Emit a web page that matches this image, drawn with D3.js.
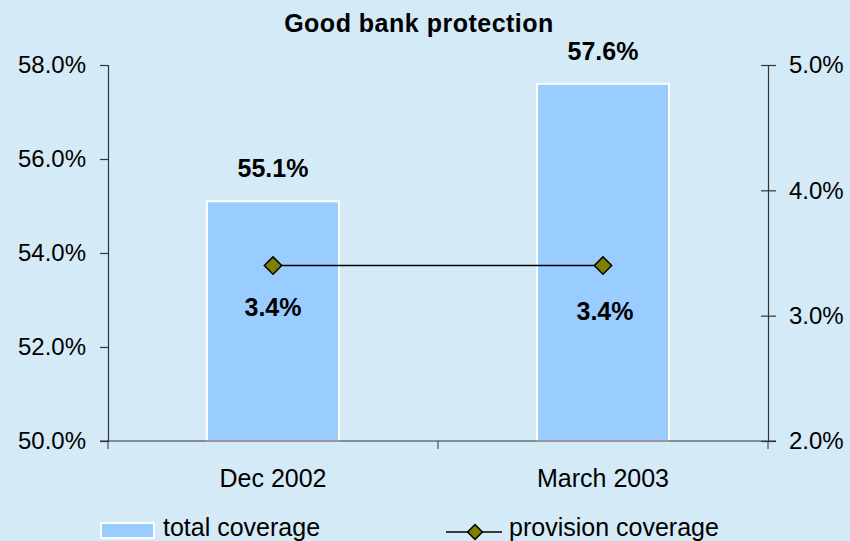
<!DOCTYPE html>
<html>
<head>
<meta charset="utf-8">
<script src="https://cdn.jsdelivr.net/npm/d3@7"></script>
<style>
  html, body { margin: 0; padding: 0; background: #D4EAF6; }
  svg { display: block; font-family: "Liberation Sans", Arial, sans-serif; }
</style>
</head>
<body>
<div id="chart"></div>
<script>
const categories = ['Dec 2002', 'March 2003'];
const totalCoverage = [55.1, 57.6];
const provisionCoverage = [3.4, 3.4];
const leftTicks = [50, 52, 54, 56, 58];
const rightTicks = [2, 3, 4, 5];

const width = 850, height = 541;
const margin = { top: 65, right: 82, bottom: 100, left: 108 };
const innerW = width - margin.left - margin.right;
const innerH = height - margin.top - margin.bottom;

const svg = d3.select('#chart').append('svg')
  .attr('width', width)
  .attr('height', height);

svg.append('rect').attr('width', width).attr('height', height).attr('fill', '#D4EAF6');

const g = svg.append('g').attr('transform', `translate(${margin.left},${margin.top})`);

const x = d3.scaleBand().domain(categories).range([0, innerW]).paddingInner(0.6).paddingOuter(0.3);
const yL = d3.scaleLinear().domain([50, 58]).range([innerH, 0]);
const yR = d3.scaleLinear().domain([2, 5]).range([innerH, 0]);
const fmt = d => d.toFixed(1) + '%';

// bars
g.selectAll('rect.bar')
  .data(categories)
  .join('rect')
  .attr('class', 'bar')
  .attr('x', d => x(d))
  .attr('width', x.bandwidth())
  .attr('y', (d, i) => yL(totalCoverage[i]))
  .attr('height', (d, i) => innerH - yL(totalCoverage[i]))
  .attr('fill', '#99CCFF')
  .attr('stroke', '#FFFFFF')
  .attr('stroke-width', 2);

// left axis
const axL = g.append('g')
  .call(d3.axisLeft(yL).tickValues(leftTicks).tickFormat(fmt).tickSize(8).tickPadding(14));
// right axis
const axR = g.append('g')
  .attr('transform', `translate(${innerW},0)`)
  .call(d3.axisRight(yR).tickValues(rightTicks).tickFormat(fmt).tickSize(8).tickPadding(13));
axR.selectAll('.tick line').attr('x1', -7);
// bottom axis
const axB = g.append('g')
  .attr('transform', `translate(0,${innerH})`)
  .call(d3.axisBottom(x).tickSize(0).tickPadding(28));
axB.selectAll('.domain').attr('d', `M-8,0H${innerW + 8}`);
// category separators
axB.selectAll('.sep')
  .data([0, innerW / 2, innerW])
  .join('line')
  .attr('x1', d => d).attr('x2', d => d)
  .attr('y1', 0).attr('y2', 8)
  .attr('stroke', '#333');

[axL, axR, axB].forEach(a => {
  a.attr('font-size', null).attr('font-family', null);
  a.selectAll('.domain, .tick line').attr('stroke', '#333').attr('stroke-width', 1.2);
  a.selectAll('text').style('font-size', '24px').attr('fill', '#000');
});
axB.selectAll('text').style('font-size', '25px');

// line
const cx = d => x(d) + x.bandwidth() / 2;
const line = d3.line().x((d, i) => cx(categories[i])).y(d => yR(d));
g.append('path')
  .datum(provisionCoverage)
  .attr('d', line)
  .attr('fill', 'none')
  .attr('stroke', '#000')
  .attr('stroke-width', 1.5);

g.selectAll('path.marker')
  .data(provisionCoverage)
  .join('path')
  .attr('class', 'marker')
  .attr('transform', (d, i) => `translate(${cx(categories[i])},${yR(d)}) rotate(45)`)
  .attr('d', d3.symbol().type(d3.symbolSquare).size(150))
  .attr('fill', '#808000')
  .attr('stroke', '#000')
  .attr('stroke-width', 1.5);

// value labels
g.selectAll('text.barval')
  .data(totalCoverage)
  .join('text')
  .attr('class', 'barval')
  .attr('x', (d, i) => cx(categories[i]))
  .attr('y', d => yL(d) - 24)
  .attr('text-anchor', 'middle')
  .style('font-size', '25px')
  .attr('font-weight', 'bold')
  .text(fmt);

g.selectAll('text.lineval')
  .data(provisionCoverage)
  .join('text')
  .attr('class', 'lineval')
  .attr('x', (d, i) => cx(categories[i]) + (i === 1 ? 2 : 0))
  .attr('y', (d, i) => yR(d) + 50 + (i === 1 ? 4 : 0))
  .attr('text-anchor', 'middle')
  .style('font-size', '25px')
  .attr('font-weight', 'bold')
  .text(fmt);

// title
svg.append('text')
  .attr('x', 419)
  .attr('y', 32)
  .attr('text-anchor', 'middle')
  .style('font-size', '25px')
  .style('letter-spacing', '0.5px')
  .attr('font-weight', 'bold')
  .text('Good bank protection');

// legend
const lg = svg.append('g').attr('transform', 'translate(0,530)');
lg.append('rect')
  .attr('x', 101).attr('y', -7).attr('width', 53).attr('height', 15)
  .attr('fill', '#99CCFF').attr('stroke', '#fff').attr('stroke-width', 2);
lg.append('text').attr('x', 163).attr('y', 6).style('font-size', '25px').text('total coverage');
lg.append('line').attr('x1', 446).attr('x2', 502).attr('y1', 2).attr('y2', 2)
  .attr('stroke', '#000').attr('stroke-width', 1.5);
lg.append('path')
  .attr('transform', 'translate(475,2) rotate(45)')
  .attr('d', d3.symbol().type(d3.symbolSquare).size(110))
  .attr('fill', '#808000').attr('stroke', '#000').attr('stroke-width', 1.5);
lg.append('text').attr('x', 509).attr('y', 6).style('font-size', '25px').text('provision coverage');
</script>
</body>
</html>
